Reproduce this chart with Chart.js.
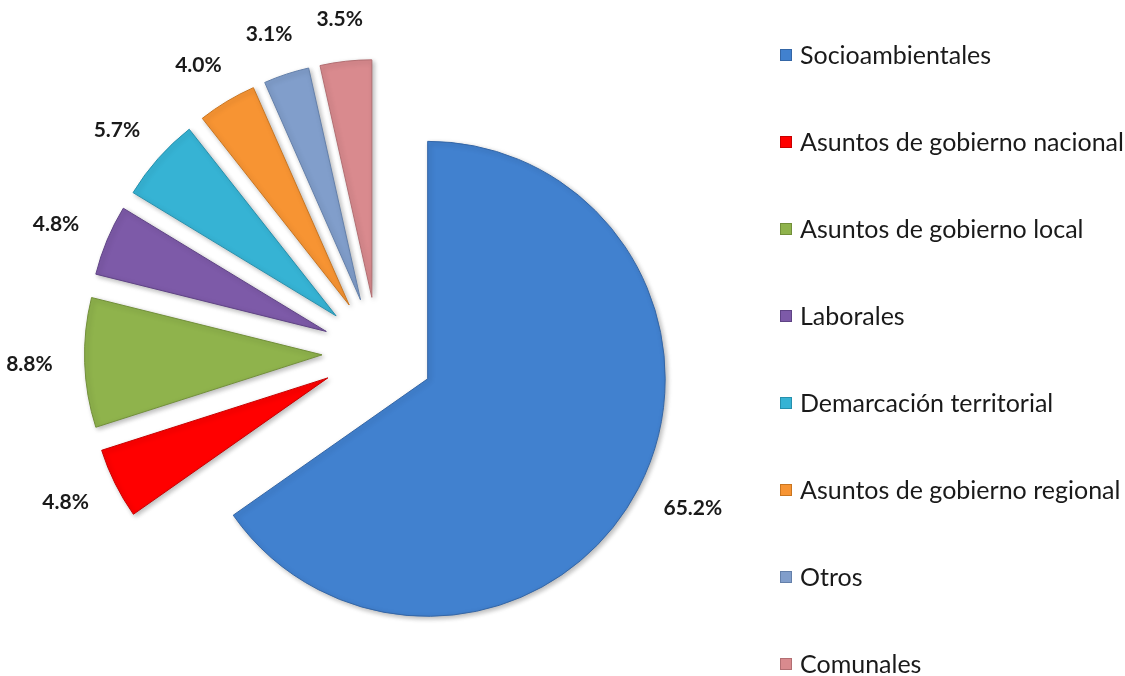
<!DOCTYPE html>
<html>
<head>
<meta charset="utf-8">
<script src="https://cdn.jsdelivr.net/npm/chart.js@4.4.0/dist/chart.umd.min.js"></script>
<style>
  html, body { margin: 0; padding: 0; background: #fff; }
  #wrap { width: 1125px; height: 676px; position: relative; }
</style>
</head>
<body>
<div id="wrap"><canvas id="myChart"></canvas></div>
<script>
const categories = [
  "Socioambientales",
  "Asuntos de gobierno nacional",
  "Asuntos de gobierno local",
  "Laborales",
  "Demarcación territorial",
  "Asuntos de gobierno regional",
  "Otros",
  "Comunales"
];
const shares = [65.2, 4.8, 8.8, 4.8, 5.7, 4.0, 3.1, 3.5];
const pctLabels = ["65.2%", "4.8%", "8.8%", "4.8%", "5.7%", "4.0%", "3.1%", "3.5%"];
const sliceColors = ["#4181cf", "#ff0000", "#8fb34c", "#7d5aa8", "#36b3d4", "#f79433", "#819ecb", "#d98a8e"];
const edgeColors = ["#3466a6", "#c80000", "#728f3a", "#5f4385", "#2690ad", "#c97520", "#6480aa", "#b26e72"];

const explodeDist = 56;
const labelGap = 32;
const textFont = "Lato, 'Open Sans', sans-serif";

// pull each slice out along its middle angle
const explodePlugin = {
  id: "explode",
  beforeDatasetDraw(chart, args) {
    const ctx = chart.ctx;
    args.meta.data.forEach(function (arc) {
      const mid = (arc.startAngle + arc.endAngle) / 2;
      ctx.save();
      ctx.shadowColor = "rgba(0,0,0,0.28)";
      ctx.shadowBlur = 5;
      ctx.shadowOffsetX = 2;
      ctx.shadowOffsetY = 2;
      ctx.translate(Math.cos(mid) * explodeDist, Math.sin(mid) * explodeDist);
      arc.draw(ctx);
      ctx.restore();
    });
    return false;
  },
  afterDatasetsDraw(chart) {
    const ctx = chart.ctx;
    const arcs = chart.getDatasetMeta(0).data;
    ctx.save();
    ctx.font = "bold 21px " + textFont;
    ctx.fillStyle = "#1a1a1a";
    ctx.textAlign = "center";
    ctx.textBaseline = "middle";
    arcs.forEach(function (arc, i) {
      const mid = (arc.startAngle + arc.endAngle) / 2;
      const dx = Math.cos(mid), dy = Math.sin(mid);
      const r = arc.outerRadius + explodeDist + labelGap;
      const w = ctx.measureText(pctLabels[i]).width;
      // push the label box outward so its near edge sits on the ring
      const x = arc.x + dx * r + dx * w / 2;
      const y = arc.y + dy * r + dy * 10;
      ctx.fillText(pctLabels[i], x, y);
    });
    ctx.restore();
  }
};

// legend drawn by hand, items spread down the right side
const sideLegend = {
  id: "sideLegend",
  afterDraw(chart) {
    const ctx = chart.ctx;
    const x0 = 780, y0 = 55, step = 87, box = 12;
    ctx.save();
    ctx.font = "25px " + textFont;
    ctx.textBaseline = "middle";
    ctx.textAlign = "left";
    chart.data.labels.forEach(function (lbl, i) {
      const y = y0 + i * step;
      ctx.fillStyle = sliceColors[i];
      ctx.fillRect(x0, y - box / 2, box, box);
      ctx.strokeStyle = edgeColors[i];
      ctx.lineWidth = 1;
      ctx.strokeRect(x0 + 0.5, y - box / 2 + 0.5, box - 1, box - 1);
      ctx.fillStyle = "#1a1a1a";
      ctx.fillText(lbl, x0 + 20, y + 1);
    });
    ctx.restore();
  }
};

new Chart(document.getElementById("myChart"), {
  type: "pie",
  data: {
    labels: categories,
    datasets: [
      {
        data: shares,
        backgroundColor: sliceColors,
        borderColor: edgeColors,
        borderWidth: 1,
        clip: false
      }
    ]
  },
  options: {
    responsive: true,
    maintainAspectRatio: false,
    animation: false,
    layout: {
      padding: { left: 140, right: 509, top: 115, bottom: 85 }
    },
    plugins: {
      legend: { display: false },
      tooltip: { enabled: false }
    }
  },
  plugins: [explodePlugin, sideLegend]
});
</script>
</body>
</html>
